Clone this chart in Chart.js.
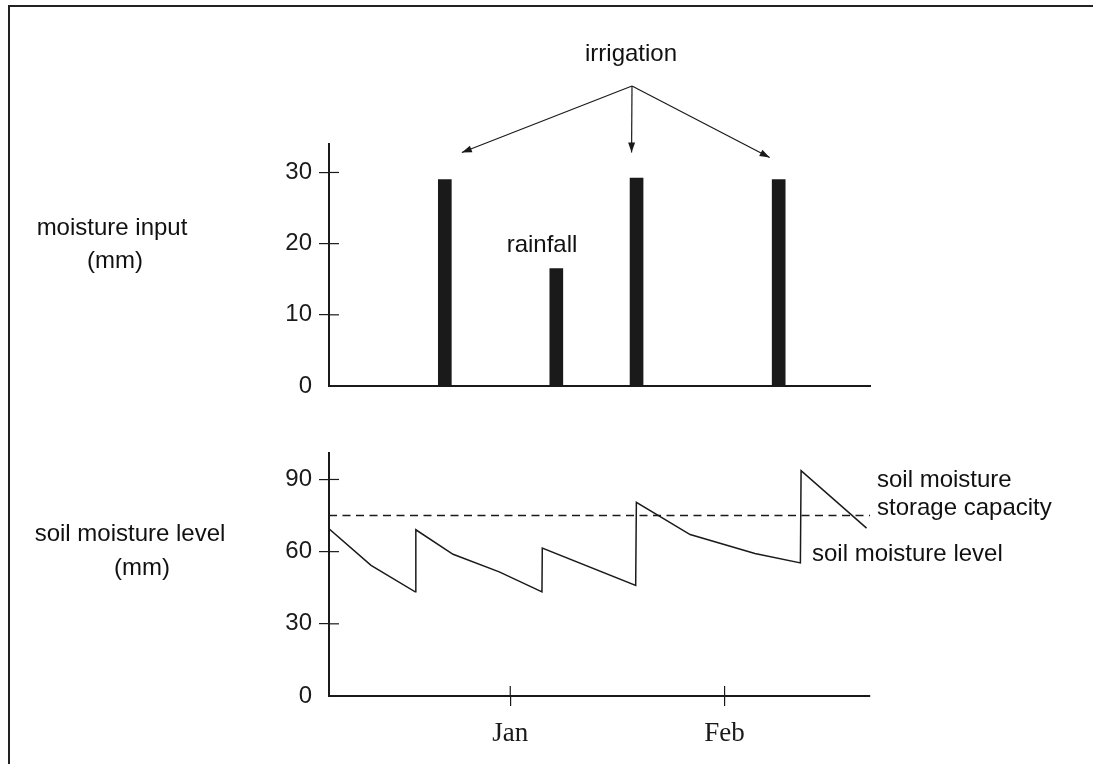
<!DOCTYPE html>
<html>
<head>
<meta charset="utf-8">
<script src="https://cdn.jsdelivr.net/npm/chart.js@4.4.0/dist/chart.umd.min.js"></script>
<style>
  html, body { margin: 0; padding: 0; background: #fff; }
  body { width: 1093px; height: 764px; position: relative; overflow: hidden; font-family: 'Liberation Sans', Arial, sans-serif; color: #111; }
  #frame { position: absolute; left: 8px; top: 5px; width: 1200px; height: 900px; border-left: 2px solid #222; border-top: 2px solid #222; }
  .lbl { position: absolute; font-size: 24px; white-space: nowrap; line-height: 1; }
  .c { transform: translate(-50%, -50%); }
  .l { transform: translate(0, -50%); }
  .wrap { position: absolute; left: 0; width: 1093px; }
</style>
</head>
<body>
<div id="frame"></div>
<div class="wrap" style="top:0;height:420px"><canvas id="inputChart"></canvas></div>
<div class="wrap" style="top:420px;height:344px"><canvas id="levelChart"></canvas></div>

<div class="lbl c" style="left:631px;top:53px">irrigation</div>
<div class="lbl c" style="left:542px;top:244px">rainfall</div>
<div class="lbl c" style="left:112px;top:227px">moisture input</div>
<div class="lbl c" style="left:115px;top:260px">(mm)</div>
<div class="lbl c" style="left:130px;top:533px">soil moisture level</div>
<div class="lbl c" style="left:142px;top:567px">(mm)</div>
<div class="lbl l" style="left:877px;top:479px">soil moisture</div>
<div class="lbl l" style="left:877px;top:507px">storage capacity</div>
<div class="lbl l" style="left:812px;top:553px">soil moisture level</div>

<script>
// days from the left end of the time axis
const dayMax = 78.5;
const barDays = [14.0, 32.2, 45.3, 68.5];
const barMm = [29, 16.5, 29.2, 29];
const irrigationBars = [0, 2, 3];

const levelDays = [0, 6.1, 12.5, 12.6, 18.0, 24.7, 30.9, 30.95, 44.5, 44.6, 52.4, 61.8, 68.4, 68.5, 78.0];
const levelMm = [69.5, 54.3, 43.3, 69.1, 58.9, 51.6, 43.3, 61.5, 46.0, 80.5, 67.1, 59.2, 55.3, 93.7, 69.8];

const capacityDays = [0, 78.5];
const capacityMm = [75, 75];

const monthDays = [26.3, 57.4];
const monthNames = ['Jan', 'Feb'];

const inputTicks = [0, 10, 20, 30];
const levelTicks = [0, 30, 60, 90];

const ink = '#1a1a1a';
const sansFont = { family: "'Liberation Sans', Arial, sans-serif", size: 24 };

// short tick marks that continue inside the plot area
const crossTicks = {
  id: 'crossTicks',
  afterDraw(chart, args, opts) {
    const ctx = chart.ctx;
    const area = chart.chartArea;
    ctx.save();
    ctx.strokeStyle = ink;
    ctx.lineWidth = 1.2;
    (opts.y || []).forEach((v) => {
      const y = chart.scales.y.getPixelForValue(v);
      ctx.beginPath();
      ctx.moveTo(area.left, y);
      ctx.lineTo(area.left + 10, y);
      ctx.stroke();
    });
    (opts.x || []).forEach((v) => {
      const x = chart.scales.x.getPixelForValue(v);
      ctx.beginPath();
      ctx.moveTo(x, area.bottom);
      ctx.lineTo(x, area.bottom - 10);
      ctx.stroke();
    });
    ctx.restore();
  },
};

// arrows from the "irrigation" note down to the irrigation bars
const irrigationArrows = {
  id: 'irrigationArrows',
  afterDraw(chart) {
    const xs = chart.scales.x;
    const ys = chart.scales.y;
    const ctx = chart.ctx;
    const apex = { x: 632, y: 86 };
    const offsets = [17, -5, -9];
    const tipMm = [32.8, 32.8, 32.1];
    ctx.save();
    ctx.strokeStyle = ink;
    ctx.fillStyle = ink;
    ctx.lineWidth = 1.2;
    irrigationBars.forEach((b, i) => {
      const tx = xs.getPixelForValue(barDays[b]) + offsets[i];
      const ty = ys.getPixelForValue(tipMm[i]);
      ctx.beginPath();
      ctx.moveTo(apex.x, apex.y);
      ctx.lineTo(tx, ty);
      ctx.stroke();
      const a = Math.atan2(ty - apex.y, tx - apex.x);
      ctx.beginPath();
      ctx.moveTo(tx, ty);
      ctx.lineTo(tx - 10 * Math.cos(a) + 3.5 * Math.sin(a), ty - 10 * Math.sin(a) - 3.5 * Math.cos(a));
      ctx.lineTo(tx - 10 * Math.cos(a) - 3.5 * Math.sin(a), ty - 10 * Math.sin(a) + 3.5 * Math.cos(a));
      ctx.closePath();
      ctx.fill();
    });
    ctx.restore();
  },
};

const hideZero = (c) => (c.tick && c.tick.value === 0 ? 'rgba(0,0,0,0)' : ink);

new Chart(document.getElementById('inputChart'), {
  type: 'bar',
  data: {
    datasets: [{
      data: barDays.map((d, i) => ({ x: d, y: barMm[i] })),
      backgroundColor: ink,
      barThickness: 13,
    }],
  },
  options: {
    responsive: true,
    maintainAspectRatio: false,
    animation: false,
    layout: { padding: { left: 269, right: 223, top: 144, bottom: 24 } },
    plugins: {
      legend: { display: false },
      tooltip: { enabled: false },
      crossTicks: { y: [10, 20, 30] },
    },
    scales: {
      x: {
        type: 'linear',
        min: 0,
        max: dayMax,
        ticks: { display: false },
        grid: { drawOnChartArea: false, drawTicks: false },
        border: { color: ink, width: 2 },
        afterFit: (s) => { s.height = 10; },
      },
      y: {
        min: 0,
        max: 34,
        afterBuildTicks: (s) => { s.ticks = inputTicks.map((v) => ({ value: v })); },
        afterFit: (s) => { s.width = 60; },
        ticks: { color: ink, font: sansFont, padding: 7 },
        grid: { drawOnChartArea: false, tickLength: 10, color: hideZero, lineWidth: 1.2 },
        border: { color: ink, width: 2 },
      },
    },
  },
  plugins: [crossTicks, irrigationArrows],
});

new Chart(document.getElementById('levelChart'), {
  type: 'line',
  data: {
    datasets: [
      {
        data: levelDays.map((d, i) => ({ x: d, y: levelMm[i] })),
        borderColor: ink,
        borderWidth: 1.5,
        pointRadius: 0,
        tension: 0,
      },
      {
        data: capacityDays.map((d, i) => ({ x: d, y: capacityMm[i] })),
        borderColor: ink,
        borderWidth: 1.5,
        borderDash: [8, 5.5],
        pointRadius: 0,
      },
    ],
  },
  options: {
    responsive: true,
    maintainAspectRatio: false,
    animation: false,
    layout: { padding: { left: 269, right: 223, top: 33, bottom: 18 } },
    plugins: {
      legend: { display: false },
      tooltip: { enabled: false },
      crossTicks: { y: [30, 60, 90], x: monthDays },
    },
    scales: {
      x: {
        type: 'linear',
        min: 0,
        max: dayMax,
        afterBuildTicks: (s) => { s.ticks = monthDays.map((v) => ({ value: v })); },
        afterFit: (s) => { s.height = 50; },
        ticks: {
          color: ink,
          font: { family: "'Liberation Serif', 'Times New Roman', serif", size: 27 },
          padding: 12,
          maxRotation: 0,
          callback: (v, i) => monthNames[i],
        },
        grid: { drawOnChartArea: false, tickLength: 10, color: ink, lineWidth: 1.2 },
        border: { color: ink, width: 2 },
      },
      y: {
        min: 0,
        max: 101,
        afterBuildTicks: (s) => { s.ticks = levelTicks.map((v) => ({ value: v })); },
        afterFit: (s) => { s.width = 60; },
        ticks: { color: ink, font: sansFont, padding: 7 },
        grid: { drawOnChartArea: false, tickLength: 10, color: hideZero, lineWidth: 1.2 },
        border: { color: ink, width: 2 },
      },
    },
  },
  plugins: [crossTicks],
});
</script>
</body>
</html>
